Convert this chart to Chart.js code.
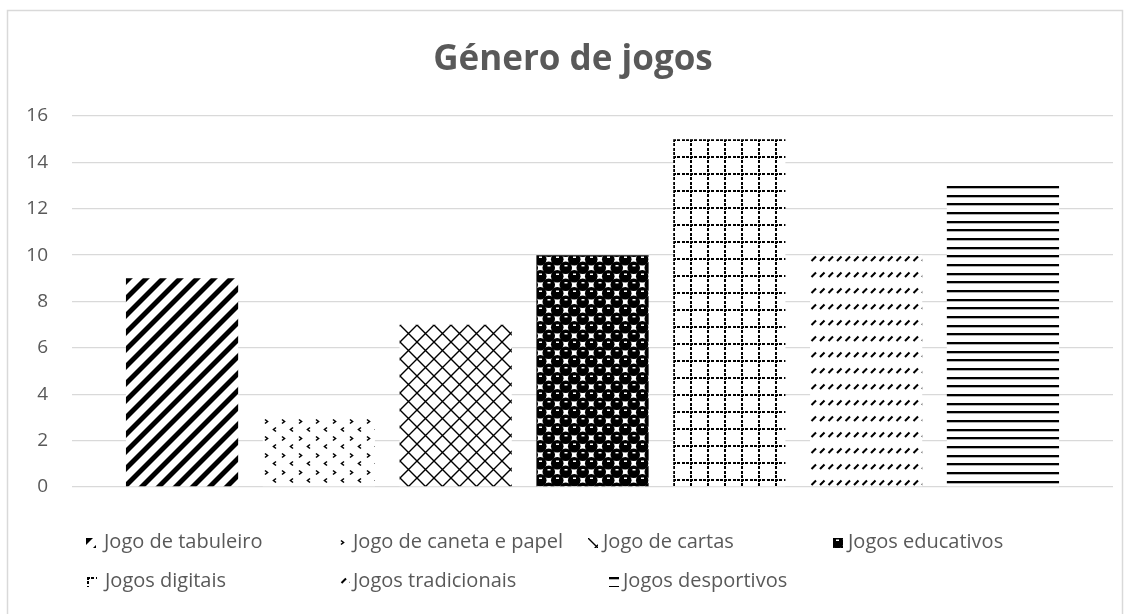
<!DOCTYPE html>
<html lang="pt">
<head>
  <meta charset="UTF-8">
  <title>Género de jogos</title>
  <script src="https://cdn.jsdelivr.net/npm/chart.js"></script>
  <style>
    html, body { margin: 0; padding: 0; background: #fff; }
    #wrap { width: 1131px; height: 614px; position: relative; }
  </style>
</head>
<body>
<div id="wrap"><canvas id="chart"></canvas></div>
<script>
  const chartTitle = 'Género de jogos';
  const series = ['Jogo de tabuleiro', 'Jogo de caneta e papel', 'Jogo de cartas', 'Jogos educativos',
                  'Jogos digitais', 'Jogos tradicionais', 'Jogos desportivos'];
  const values = [9, 3, 7, 10, 15, 10, 13];
  const yMin = 0, yMax = 16, yStep = 2;

  const FONT = "'Open Sans', 'Noto Sans', sans-serif";
  const GREY = '#595959';

  const canvas = document.getElementById('chart');
  const ctx = canvas.getContext('2d');

  // pattern tiles, drawn black on white like the Excel fills
  function tile(w, h, draw) {
    const c = document.createElement('canvas');
    c.width = w; c.height = h;
    const g = c.getContext('2d');
    g.fillStyle = '#fff';
    g.fillRect(0, 0, w, h);
    g.fillStyle = '#000';
    g.strokeStyle = '#000';
    draw(g, w, h);
    return ctx.createPattern(c, 'repeat');
  }

  const T = 17;
  const patterns = [
    // wide upward diagonal
    tile(T, T, (g) => {
      const w = 7;
      for (let k = 0; k <= 2; k++) {
        g.beginPath();
        g.moveTo(k * T, 0); g.lineTo(k * T + w, 0);
        g.lineTo(k * T + w - T, T); g.lineTo(k * T - T, T);
        g.closePath(); g.fill();
      }
    }),
    // divot
    tile(T, T, (g) => {
      g.lineWidth = 1.6;
      g.beginPath();
      g.moveTo(2, 2.5); g.lineTo(4.5, 4.5); g.lineTo(2, 6.5);
      g.moveTo(13, 10.5); g.lineTo(10.5, 12.5); g.lineTo(13, 14.5);
      g.stroke();
    }),
    // outlined diamond
    tile(T, T, (g) => {
      g.lineWidth = 1.4;
      g.beginPath();
      g.moveTo(0, 0); g.lineTo(T, T);
      g.moveTo(T, 0); g.lineTo(0, T);
      g.stroke();
    }),
    // sphere
    tile(T, T, (g) => {
      const r = 6.3;
      for (const [cx, cy] of [[4.25, 4.25], [12.75, 12.75]]) {
        for (const dx of [-T, 0, T]) for (const dy of [-T, 0, T]) {
          g.beginPath(); g.arc(cx + dx, cy + dy, r, 0, Math.PI * 2); g.fill();
        }
      }
      g.fillStyle = '#fff';
      g.fillRect(3, 1.5, 3, 1.5);
      g.fillRect(11.5, 10, 3, 1.5);
    }),
    // dotted grid
    tile(T, T, (g) => {
      for (let x = 0; x < T; x += 4.25) g.fillRect(Math.round(x), 0, 3, 2);
      for (let y = 0; y < T; y += 4.25) g.fillRect(0, Math.round(y), 2, 3);
    }),
    // dashed upward diagonal
    tile(T, 16, (g) => {
      g.lineWidth = 2.1;
      g.beginPath();
      for (const x0 of [0, 8.5]) { g.moveTo(x0 + 1.5, 6); g.lineTo(x0 + 6, 1.5); }
      g.stroke();
    }),
    // horizontal lines
    tile(T, 26, (g) => {
      g.fillRect(0, 0, T, 2.3);
      g.fillRect(0, 9, T, 2.3);
      g.fillRect(0, 17, T, 2.3);
    })
  ];

  function anchor(p, x, y) {
    p.setTransform(new DOMMatrix([1, 0, 0, 1, x, y]));
  }

  // legend slots: [iconX, textX, row]
  const legendSlots = [
    [86, 104, 0], [339, 353, 0], [588, 603, 0], [833, 848, 0],
    [87, 105, 1], [340, 353, 1], [609, 623, 1]
  ];
  const legendRowY = [548, 587];

  const decorPlugin = {
    id: 'decor',
    beforeDraw(chart) {
      const c = chart.ctx;
      c.save();
      c.fillStyle = '#fff';
      c.fillRect(0, 0, chart.width, chart.height);
      c.strokeStyle = '#d9d9d9';
      c.lineWidth = 1.5;
      c.strokeRect(7.5, 10.5, 1115, 640);
      c.restore();
    },
    beforeDatasetsDraw(chart) {
      // start each fill at its bar's top-left corner
      chart.data.datasets.forEach((ds, i) => {
        const bar = chart.getDatasetMeta(i).data[0];
        if (bar) anchor(patterns[i], Math.round(bar.x - bar.width / 2), Math.round(bar.y));
      });
    },
    afterDraw(chart) {
      const c = chart.ctx;
      c.save();
      c.fillStyle = GREY;
      c.textAlign = 'center';
      c.textBaseline = 'alphabetic';
      c.font = 'bold 35px ' + FONT;
      c.fillText(chartTitle, 573, 70, 282);

      c.textAlign = 'left';
      c.font = '20px ' + FONT;
      series.forEach((name, i) => {
        const [ix, tx, row] = legendSlots[i];
        const base = legendRowY[row];
        anchor(patterns[i], ix, base - 10);
        c.fillStyle = patterns[i];
        c.fillRect(ix, base - 10, 10, 10);
        c.fillStyle = GREY;
        c.fillText(name, tx, base);
      });
      c.restore();
    }
  };

  new Chart(ctx, {
    type: 'bar',
    data: {
      labels: [''],
      datasets: series.map((name, i) => ({
        label: name,
        data: [values[i]],
        backgroundColor: patterns[i],
        borderWidth: 0,
        barPercentage: 0.82,
        categoryPercentage: 0.92
      }))
    },
    options: {
      responsive: true,
      maintainAspectRatio: false,
      animation: false,
      layout: { padding: { top: 116, right: 18, bottom: 127, left: 0 } },
      plugins: {
        legend: { display: false },
        title: { display: false },
        tooltip: { enabled: false }
      },
      scales: {
        x: {
          grid: { display: false, drawTicks: false },
          border: { display: false },
          ticks: { display: false },
          afterFit(scale) { scale.height = 0; }
        },
        y: {
          min: yMin,
          max: yMax,
          ticks: {
            stepSize: yStep,
            color: GREY,
            padding: 24,
            font: { family: FONT, size: 19 }
          },
          grid: { color: '#d9d9d9', lineWidth: 1.3, drawTicks: false },
          border: { display: false },
          afterFit(scale) { scale.width = 72; }
        }
      }
    },
    plugins: [decorPlugin]
  });
</script>
</body>
</html>
